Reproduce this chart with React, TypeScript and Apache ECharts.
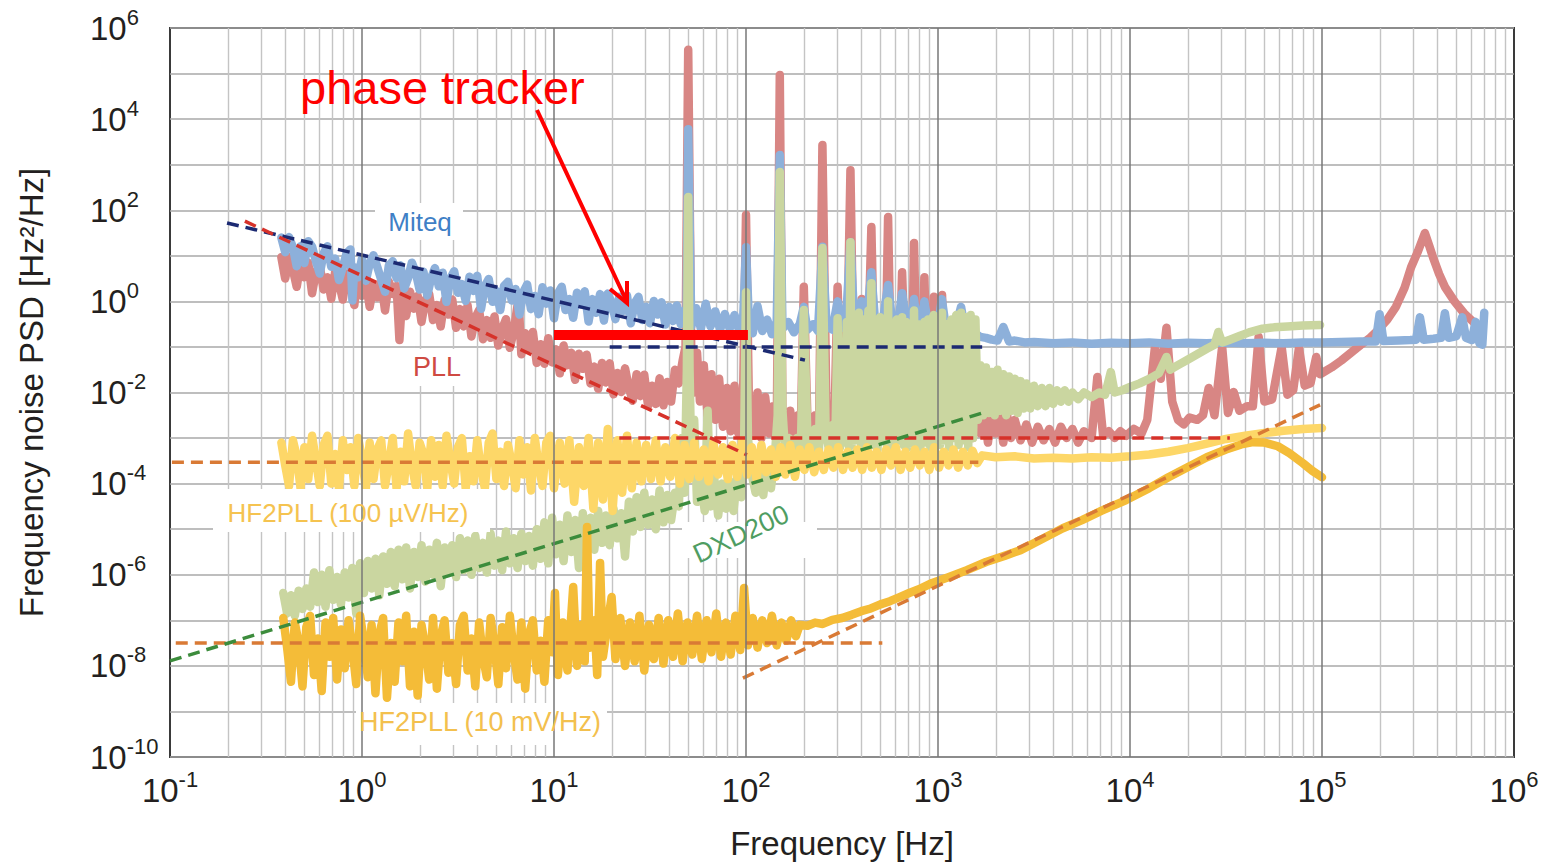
import { useEffect, useRef } from "react";
import * as echarts from "echarts";

// All spectral values are decimal exponents:
// each pair is [log10(frequency in Hz), log10(PSD in Hz^2/Hz)].

const miteqExp: [number, number][] = [
  [-0.42, 1.4], [-0.4, 1.08], [-0.38, 1.41], [-0.36, 1.19], [-0.34, 0.77], [-0.32, 1.21], [-0.3, 0.84], [-0.28, 1.32],
  [-0.26, 1.2], [-0.24, 0.88], [-0.22, 0.61], [-0.2, 1.05], [-0.18, 1.21], [-0.16, 0.76], [-0.14, 0.94], [-0.12, 0.47],
  [-0.1, 0.75], [-0.08, 1.06], [-0.06, 1.14], [-0.05, 0.02], [-0.04, 0.75], [-0.02, 0.53], [0.0, 0.95], [0.02, 0.45],
  [0.04, 0.83], [0.06, 1.01], [0.08, 0.75], [0.1, 0.48], [0.12, 0.21], [0.14, 0.79], [0.16, 0.88], [0.18, 0.51],
  [0.2, 0.79], [0.22, 0.28], [0.24, 0.51], [0.26, 0.85], [0.28, 0.63], [0.3, 0.26], [0.32, 0.65], [0.34, 0.13],
  [0.36, 0.51], [0.38, 0.73], [0.4, 0.33], [0.42, 0.63], [0.44, -0.01], [0.46, 0.5], [0.48, 0.66], [0.5, 0.19],
  [0.52, 0.38], [0.54, 0.01], [0.56, 0.54], [0.58, 0.23], [0.6, 0.56], [0.62, -0.16], [0.64, 0.33], [0.66, 0.49],
  [0.68, -0.01], [0.7, 0.23], [0.72, -0.19], [0.74, 0.34], [0.76, 0.43], [0.78, 0.02], [0.8, 0.27], [0.82, -0.29],
  [0.84, 0.2], [0.86, 0.37], [0.88, -0.17], [0.9, 0.12], [0.92, -0.28], [0.94, 0.31], [0.96, -0.05], [0.98, 0.24],
  [1.0, -0.37], [1.02, 0.17], [1.04, 0.32], [1.06, -0.19], [1.08, 0.05], [1.1, -0.36], [1.12, 0.19], [1.14, -0.07],
  [1.16, 0.22], [1.18, -0.44], [1.2, 0.05], [1.22, -0.25], [1.24, 0.16], [1.26, -0.42], [1.28, 0.17], [1.3, -0.03],
  [1.32, -0.39], [1.34, 0.1], [1.36, -0.21], [1.38, 0.13], [1.4, -0.48], [1.42, -0.04], [1.44, 0.1], [1.46, -0.41],
  [1.48, -0.12], [1.5, -0.48], [1.52, 0.01], [1.54, -0.29], [1.56, -0.02], [1.58, -0.51], [1.6, -0.12], [1.62, -0.43],
  [1.64, -0.09], [1.66, -0.5], [1.68, -0.2], [1.69, -0.45],
  [1.699, 3.78],
  [1.715, -0.55], [1.74, -0.15], [1.765, -0.6], [1.79, -0.05], [1.815, -0.55], [1.84, -0.22], [1.865, -0.62], [1.89, -0.28],
  [1.915, -0.6], [1.94, -0.3], [1.965, -0.65], [1.985, -0.4],
  [2.0, 1.19],
  [2.015, -0.45], [2.035, -0.7], [2.06, -0.1], [2.085, -0.65], [2.11, -0.4], [2.135, -0.72], [2.16, -0.45],
  [2.176, 3.21],
  [2.19, -0.6], [2.22, -0.45], [2.25, -0.68], [2.28, -0.5],
  [2.301, -0.12],
  [2.32, -0.62], [2.35, -0.5], [2.375, -0.65],
  [2.398, 1.2],
  [2.42, -0.55], [2.45, -0.62],
  [2.477, 0.0],
  [2.5, -0.58], [2.52, -0.5],
  [2.544, 1.3],
  [2.565, -0.55], [2.585, -0.62],
  [2.602, 0.0],
  [2.625, -0.55],
  [2.653, 0.64],
  [2.675, -0.6], [2.71, -0.52],
  [2.74, 0.36],
  [2.765, -0.6], [2.79, -0.55],
  [2.813, 0.18],
  [2.84, -0.58], [2.86, -0.5],
  [2.875, 0.05],
  [2.895, -0.6], [2.912, -0.48],
  [2.929, 0.0],
  [2.95, -0.55], [2.97, -0.6], [3.0, -0.55], [3.02, 0.05], [3.04, -0.55], [3.07, -0.62], [3.1, -0.45], [3.12, -0.12],
  [3.14, -0.6], [3.17, -0.7], [3.2, -0.72], [3.22, -0.78], [3.25, -0.8], [3.28, -0.84], [3.31, -0.86], [3.34, -0.56],
  [3.37, -0.88], [3.4, -0.86], [3.45, -0.9], [3.5, -0.89], [3.6, -0.92], [3.7, -0.9], [3.8, -0.93], [3.9, -0.91],
  [4.0, -0.92], [4.1, -0.9], [4.2, -0.93], [4.3, -0.91], [4.4, -0.92], [4.5, -0.9], [4.6, -0.92], [4.7, -0.91],
  [4.8, -0.92], [4.9, -0.9], [5.0, -0.9], [5.1, -0.89], [5.2, -0.88], [5.28, -0.88], [5.3, -0.28], [5.32, -0.87],
  [5.4, -0.86], [5.46, -0.85], [5.49, -0.84], [5.51, -0.35], [5.53, -0.84], [5.58, -0.82], [5.62, -0.8], [5.64, -0.26],
  [5.66, -0.8], [5.7, -0.76], [5.73, -0.35], [5.75, -0.8], [5.78, -0.85], [5.8, -0.45], [5.82, -0.92], [5.835, -0.95],
  [5.845, -0.25],
];

const pllExp: [number, number][] = [
  [-0.42, 0.97], [-0.4, 0.5], [-0.38, 0.97], [-0.36, 0.7], [-0.34, 0.32], [-0.32, 0.85], [-0.3, 0.53], [-0.28, 0.85],
  [-0.26, 0.18], [-0.24, 0.65], [-0.22, 0.78], [-0.2, 0.26], [-0.18, 0.53], [-0.16, 0.06], [-0.14, 0.64], [-0.12, 0.41],
  [-0.1, 0.04], [-0.08, 0.61], [-0.06, 0.39], [-0.04, -0.08], [-0.02, 0.69], [0.0, 0.12], [0.02, 0.45], [0.04, -0.12],
  [0.06, 0.36], [0.08, 0.09], [0.1, 0.42], [0.12, -0.2], [0.14, 0.43], [0.16, 0.16], [0.18, 0.34], [0.195, -0.85],
  [0.21, 0.15], [0.23, -0.32], [0.25, 0.21], [0.27, -0.16], [0.29, 0.12], [0.31, -0.45], [0.33, 0.03], [0.35, 0.16],
  [0.37, -0.41], [0.39, -0.08], [0.41, -0.55], [0.43, 0.03], [0.45, -0.29], [0.47, 0.04], [0.49, -0.58], [0.51, -0.17],
  [0.53, -0.55], [0.55, -0.09], [0.57, -0.77], [0.59, -0.36], [0.61, -0.19], [0.63, -0.83], [0.65, -0.41], [0.67, -0.8],
  [0.69, -0.33], [0.71, -0.97], [0.73, -0.6], [0.75, -0.39], [0.77, -1.02], [0.79, -0.66], [0.815, 0.05], [0.83, -1.16],
  [0.85, -0.7], [0.87, -1.03], [0.89, -0.67], [0.91, -1.35], [0.93, -0.94], [0.95, -1.37], [0.97, -0.81], [0.99, -1.34],
  [1.01, -1.05], [1.03, -1.58], [1.05, -0.97], [1.07, -1.4], [1.09, -1.13], [1.11, -1.72], [1.13, -1.15], [1.15, -1.48],
  [1.17, -1.17], [1.19, -1.8], [1.21, -1.43], [1.23, -1.92], [1.25, -1.35], [1.27, -1.78], [1.29, -1.36], [1.31, -2.04],
  [1.33, -1.57], [1.35, -1.99], [1.37, -1.47], [1.39, -1.9], [1.41, -2.18], [1.43, -1.6], [1.45, -2.08], [1.47, -1.61],
  [1.49, -2.29], [1.51, -1.85], [1.53, -2.25], [1.55, -1.69], [1.57, -2.28], [1.59, -1.77], [1.61, -2.2], [1.63, -1.5],
  [1.65, -1.8], [1.67, -1.3], [1.685, -1.0],
  [1.699, 5.52],
  [1.715, -1.2], [1.73, -2.0], [1.745, -1.13], [1.76, -2.2], [1.78, -1.4], [1.8, -2.5], [1.82, -1.6], [1.84, -2.6],
  [1.86, -1.7], [1.88, -2.75], [1.9, -1.9], [1.92, -2.85], [1.94, -1.85], [1.96, -2.9], [1.985, -2.0],
  [2.0, 1.9],
  [2.015, -2.2], [2.04, -2.95], [2.06, -2.0], [2.08, -3.0], [2.1, -2.1], [2.12, -2.9], [2.14, -2.3], [2.16, -2.9],
  [2.176, 4.97],
  [2.19, -2.5], [2.21, -3.0], [2.23, -2.4], [2.25, -2.95], [2.27, -2.5], [2.285, -2.9],
  [2.301, 0.32],
  [2.32, -2.6], [2.34, -3.0], [2.36, -2.5], [2.38, -2.9],
  [2.398, 3.43],
  [2.42, -2.6], [2.44, -3.0], [2.46, -2.7],
  [2.477, 0.32],
  [2.5, -2.8], [2.52, -2.6],
  [2.544, 2.88],
  [2.565, -2.7], [2.585, -2.9],
  [2.602, 0.05],
  [2.625, -2.7],
  [2.653, 1.63],
  [2.675, -2.8], [2.7, -2.6], [2.72, -2.9],
  [2.74, 1.85],
  [2.76, -2.7], [2.79, -2.9],
  [2.813, 0.64],
  [2.84, -2.8], [2.86, -2.9],
  [2.875, 1.28],
  [2.895, -2.7], [2.912, -2.9],
  [2.929, 0.53],
  [2.95, -2.8], [2.965, -2.6],
  [2.978, 0.1],
  [3.0, -2.6],
  [3.021, 0.14],
  [3.04, -2.3], [3.06, -2.9], [3.08, -2.1], [3.1, -2.8], [3.12, -2.0], [3.14, -2.9], [3.16, -2.2], [3.18, -3.0],
  [3.2, -2.1], [3.22, -2.9], [3.24, -2.3], [3.26, -3.1], [3.28, -2.4], [3.3, -2.9], [3.32, -2.5], [3.34, -3.1],
  [3.36, -2.5], [3.38, -3.0], [3.4, -2.6], [3.43, -3.05], [3.46, -2.7], [3.49, -3.1], [3.52, -2.75], [3.55, -3.05],
  [3.58, -2.8], [3.61, -3.1], [3.64, -2.75], [3.67, -3.0], [3.7, -2.8], [3.73, -3.1], [3.76, -2.85], [3.8, -3.0],
  [3.83, -1.66],
  [3.86, -2.95], [3.89, -2.85], [3.92, -3.0], [3.95, -2.85], [3.98, -2.95], [4.02, -2.8], [4.06, -2.9], [4.09, -2.6],
  [4.13, -1.0], [4.16, -1.7], [4.19, -0.58], [4.22, -2.2],
  [4.25, -2.6], [4.28, -2.7], [4.31, -2.55], [4.35, -2.6], [4.38, -2.5],
  [4.41, -1.9], [4.44, -2.5], [4.48, -1.0], [4.51, -2.45], [4.54, -1.99], [4.57, -2.4], [4.61, -2.3], [4.64, -2.3],
  [4.67, -0.78], [4.7, -2.2], [4.74, -2.15], [4.79, -1.0], [4.82, -2.05], [4.85, -1.95], [4.88, -1.02], [4.91, -1.85],
  [4.94, -1.8], [4.97, -1.22], [4.99, -1.6],
  [5.05, -1.45], [5.1, -1.3], [5.15, -1.13], [5.2, -0.96], [5.25, -0.8], [5.287, -0.65], [5.34, -0.4], [5.385, -0.12],
  [5.43, 0.3], [5.464, 0.75], [5.5, 1.1], [5.536, 1.5], [5.56, 1.2], [5.578, 0.97], [5.61, 0.6], [5.64, 0.32],
  [5.69, 0.0], [5.74, -0.26], [5.78, -0.42], [5.82, -0.58],
];

const dxdExp: [number, number][] = [
  [-0.41, -6.4], [-0.39, -6.85], [-0.37, -6.45], [-0.35, -6.9], [-0.33, -6.35], [-0.31, -6.75], [-0.29, -6.3], [-0.27, -6.7],
  [-0.25, -5.95], [-0.23, -6.6], [-0.21, -6.0], [-0.19, -6.7], [-0.17, -5.9], [-0.15, -6.55], [-0.13, -6.05], [-0.11, -6.65],
  [-0.09, -5.95], [-0.07, -6.5], [-0.05, -5.85], [-0.03, -6.85], [-0.01, -5.75], [0.01, -6.4], [0.03, -5.7], [0.05, -6.3],
  [0.07, -5.65], [0.09, -6.45], [0.11, -5.6], [0.13, -6.2], [0.15, -5.5], [0.17, -6.25], [0.19, -5.45], [0.21, -6.1],
  [0.23, -5.4], [0.25, -6.3], [0.27, -5.5], [0.29, -6.05], [0.31, -5.35], [0.33, -6.15], [0.35, -5.45], [0.37, -6.0],
  [0.39, -5.3], [0.41, -6.25], [0.43, -5.4], [0.45, -5.95], [0.47, -5.35], [0.49, -6.05], [0.51, -5.2], [0.53, -5.9],
  [0.55, -5.25], [0.57, -6.0], [0.59, -5.15], [0.61, -5.85], [0.63, -5.3], [0.65, -5.95], [0.67, -5.1], [0.69, -5.8],
  [0.71, -5.25], [0.73, -5.9], [0.75, -5.05], [0.77, -5.75], [0.79, -5.2], [0.81, -5.85], [0.83, -5.1], [0.85, -5.7],
  [0.87, -5.15], [0.89, -5.8], [0.91, -5.0], [0.93, -5.65], [0.95, -4.85], [0.97, -5.75], [0.99, -4.75], [1.01, -5.55],
  [1.03, -4.9], [1.05, -5.7], [1.07, -4.7], [1.09, -5.5], [1.11, -4.8], [1.13, -5.85], [1.15, -4.65], [1.17, -5.4],
  [1.19, -4.75], [1.21, -5.45], [1.23, -4.6], [1.25, -5.3], [1.27, -4.7], [1.29, -5.35], [1.31, -4.55], [1.33, -5.2],
  [1.35, -4.65], [1.37, -5.6], [1.39, -4.4], [1.41, -5.05], [1.43, -4.3], [1.45, -4.95], [1.47, -4.2], [1.49, -4.9],
  [1.51, -4.35], [1.53, -5.0], [1.55, -4.15], [1.57, -4.85], [1.59, -4.25], [1.61, -4.8], [1.63, -4.2], [1.65, -4.5],
  [1.665, -3.0], [1.68, -4.2], [1.692, -1.5], [1.699, 2.29], [1.706, -1.5], [1.715, -3.5], [1.73, -2.6],
  [1.745, -4.4], [1.765, -3.95], [1.785, -4.6], [1.8, -2.4], [1.815, -4.5], [1.835, -3.9], [1.855, -4.7], [1.875, -4.0],
  [1.895, -4.55], [1.915, -3.95], [1.935, -4.6], [1.955, -3.8], [1.975, -4.3], [1.99, -3.2],
  [2.0, 0.2],
  [2.01, -3.0], [2.03, -3.8], [2.05, -4.2], [2.07, -3.6], [2.09, -4.25], [2.11, -3.5], [2.13, -4.1], [2.15, -3.4], [2.165, -2.5],
  [2.176, 2.84],
  [2.19, -2.4], [2.205, -3.4], [2.225, -3.0], [2.245, -3.6], [2.265, -3.0], [2.285, -3.4],
  [2.301, -0.19],
  [2.32, -3.0], [2.34, -3.4], [2.36, -2.8], [2.38, -3.3],
  [2.398, 1.17],
  [2.415, -2.9], [2.435, -3.3], [2.455, -2.7], [2.465, -3.2],
  [2.477, -0.37],
  [2.49, -3.2], [2.5, -1.0], [2.5125, -3.1], [2.525, -0.45], [2.5375, -3.2], [2.544, 1.3], [2.55, -3.15], [2.5625, -0.35],
  [2.575, -3.05], [2.5875, -0.25], [2.6, -3.2], [2.6125, -0.4], [2.625, -3.1], [2.6375, -0.2], [2.645, -3.0], [2.653, 0.4],
  [2.66, -3.15], [2.6725, -0.45], [2.685, -3.25], [2.6975, -0.35], [2.71, -3.05], [2.7225, -0.55], [2.735, -3.2], [2.74, 0.0],
  [2.7475, -3.1], [2.76, -0.5], [2.7725, -3.25], [2.785, -0.4], [2.7975, -3.05], [2.8075, -0.6], [2.813, -0.35], [2.82, -3.15],
  [2.8325, -0.45], [2.845, -3.2], [2.8575, -0.55], [2.87, -3.1], [2.875, -0.2], [2.8825, -3.0], [2.895, -0.5], [2.9075, -3.25],
  [2.92, -0.6], [2.929, -0.45], [2.935, -3.1], [2.9475, -0.4], [2.96, -3.2], [2.9725, -0.35], [2.978, -0.3], [2.985, -3.1],
  [2.9975, -0.45], [3.01, -3.15], [3.021, -0.25], [3.0325, -3.05], [3.045, -0.5], [3.0575, -3.2], [3.07, -0.4], [3.0825, -3.0],
  [3.095, -0.3], [3.1075, -3.15], [3.12, -0.25], [3.1325, -3.05], [3.145, -0.35], [3.1575, -3.2], [3.17, -0.3], [3.1825, -3.0],
  [3.195, -0.4], [3.2075, -2.6],
  [3.22, -1.4], [3.235, -2.5], [3.25, -1.45], [3.265, -2.45], [3.28, -1.55], [3.295, -2.5], [3.31, -1.5], [3.325, -2.4],
  [3.34, -1.6], [3.355, -2.5], [3.37, -1.65], [3.385, -2.4], [3.4, -1.7], [3.415, -2.45], [3.43, -1.75], [3.445, -2.35],
  [3.46, -1.8], [3.48, -2.35], [3.5, -1.85], [3.52, -2.3], [3.54, -1.9], [3.56, -2.3], [3.58, -1.9], [3.6, -2.25],
  [3.62, -1.95], [3.64, -2.2], [3.66, -1.95], [3.68, -2.2], [3.7, -2.0], [3.73, -2.15], [3.76, -2.0], [3.8, -2.1],
  [3.84, -2.0], [3.87, -2.05], [3.9, -1.55], [3.92, -2.0], [3.96, -1.95], [4.0, -1.88], [4.05, -1.8], [4.1, -1.7],
  [4.15, -1.58], [4.19, -1.22], [4.21, -1.5], [4.25, -1.4], [4.3, -1.28], [4.35, -1.16], [4.4, -1.04], [4.44, -0.95],
  [4.46, -0.67], [4.48, -0.9], [4.52, -0.84], [4.57, -0.76], [4.62, -0.68], [4.69, -0.6], [4.75, -0.57], [4.82, -0.55],
  [4.9, -0.53], [4.99, -0.52],
];

const hf2LowGainExp: [number, number][] = [
  [-0.42, -3.1], [-0.4, -3.6], [-0.38, -4.05], [-0.36, -3.05], [-0.34, -3.4], [-0.32, -4.1], [-0.3, -3.2], [-0.28, -3.9],
  [-0.26, -2.95], [-0.24, -3.5], [-0.22, -4.05], [-0.2, -3.15], [-0.18, -2.95], [-0.16, -4.0], [-0.14, -3.35], [-0.12, -4.1],
  [-0.1, -3.05], [-0.08, -3.7], [-0.06, -3.2], [-0.04, -4.05], [-0.02, -3.0], [0.0, -3.45], [0.02, -4.1], [0.04, -3.1],
  [0.06, -3.9], [0.08, -3.25], [0.1, -3.05], [0.12, -4.05], [0.14, -3.55], [0.16, -3.0], [0.18, -4.1], [0.2, -3.3],
  [0.22, -3.95], [0.24, -2.9], [0.26, -3.6], [0.28, -4.05], [0.3, -3.1], [0.32, -3.35], [0.34, -4.1], [0.36, -3.05],
  [0.38, -3.85], [0.4, -3.15], [0.42, -4.05], [0.44, -2.95], [0.46, -3.5], [0.48, -4.0], [0.5, -3.2], [0.52, -3.0],
  [0.54, -4.1], [0.56, -3.4], [0.58, -3.95], [0.6, -3.05], [0.62, -3.7], [0.64, -4.1], [0.66, -3.1], [0.68, -2.9],
  [0.7, -3.9], [0.72, -3.3], [0.74, -4.05], [0.76, -3.15], [0.78, -3.55], [0.8, -4.1], [0.82, -3.05], [0.84, -3.8],
  [0.86, -3.2], [0.88, -4.15], [0.9, -3.0], [0.92, -3.6], [0.94, -4.05], [0.96, -3.1], [0.98, -2.95], [1.0, -4.1],
  [1.03, -3.1], [1.055, -4.0], [1.08, -3.05], [1.105, -4.4], [1.13, -3.2], [1.155, -4.05],
  [1.18, -3.0], [1.205, -4.55], [1.23, -3.1], [1.255, -4.35], [1.28, -2.8], [1.305, -4.6], [1.33, -3.05], [1.355, -4.2],
  [1.38, -2.95], [1.405, -4.1], [1.43, -3.1], [1.455, -3.95], [1.48, -3.15], [1.505, -3.9], [1.53, -3.05], [1.555, -3.95],
  [1.58, -3.2], [1.605, -3.85], [1.63, -3.0], [1.655, -4.0], [1.68, -3.15], [1.705, -3.9], [1.73, -3.1], [1.755, -3.85],
  [1.78, -3.25], [1.805, -3.95], [1.83, -3.1], [1.855, -3.8], [1.88, -3.2], [1.905, -3.9], [1.93, -3.15], [1.955, -3.85],
  [1.98, -3.05], [2.005, -3.8], [2.03, -3.2], [2.055, -3.9], [2.08, -3.15], [2.105, -3.75], [2.13, -3.25], [2.155, -3.85],
  [2.18, -3.2], [2.205, -3.8], [2.23, -3.15], [2.255, -3.85], [2.28, -3.25], [2.305, -3.7], [2.33, -3.2], [2.355, -3.75],
  [2.38, -3.3], [2.405, -3.7], [2.43, -3.25], [2.455, -3.65], [2.48, -3.2], [2.505, -3.7], [2.53, -3.3], [2.555, -3.65],
  [2.58, -3.25], [2.605, -3.7], [2.63, -3.2], [2.655, -3.65], [2.68, -3.3], [2.705, -3.7], [2.73, -3.25], [2.755, -3.6],
  [2.78, -3.2], [2.805, -3.7], [2.83, -3.3], [2.855, -3.65], [2.88, -3.25], [2.905, -3.6], [2.93, -3.3], [2.955, -3.7],
  [2.98, -3.2], [3.005, -3.65], [3.03, -3.3], [3.055, -3.6], [3.08, -3.25], [3.105, -3.65], [3.13, -3.3], [3.155, -3.6],
  [3.18, -3.28], [3.205, -3.55],
  [3.23, -3.38], [3.3, -3.42], [3.4, -3.4], [3.5, -3.45], [3.6, -3.43], [3.7, -3.45], [3.8, -3.42], [3.9, -3.43],
  [4.0, -3.4], [4.1, -3.36], [4.2, -3.3], [4.3, -3.22], [4.4, -3.12], [4.5, -3.02], [4.6, -2.95], [4.7, -2.89],
  [4.8, -2.84], [4.9, -2.8], [5.0, -2.78],
];

const hf2HighGainExp: [number, number][] = [
  [-0.41, -6.95], [-0.39, -7.6], [-0.37, -8.35], [-0.35, -7.05], [-0.33, -7.5], [-0.31, -8.45], [-0.29, -7.15], [-0.27, -6.9],
  [-0.25, -8.2], [-0.23, -7.4], [-0.21, -8.55], [-0.19, -7.05], [-0.17, -7.8], [-0.15, -6.95], [-0.13, -8.3], [-0.11, -7.2],
  [-0.09, -8.05], [-0.07, -7.0], [-0.05, -7.6], [-0.03, -8.4], [-0.01, -6.9], [0.01, -7.45], [0.03, -8.25], [0.05, -7.1],
  [0.07, -8.6], [0.09, -7.3], [0.11, -6.95], [0.13, -8.7], [0.15, -7.5], [0.17, -8.35], [0.19, -7.05], [0.21, -7.9],
  [0.23, -6.9], [0.25, -8.45], [0.27, -7.25], [0.29, -8.65], [0.31, -7.1], [0.33, -7.6], [0.35, -8.3], [0.37, -6.95],
  [0.39, -8.5], [0.41, -7.35], [0.43, -7.0], [0.45, -8.15], [0.47, -7.5], [0.49, -8.4], [0.51, -7.1], [0.53, -6.9],
  [0.55, -8.1], [0.57, -7.4], [0.59, -8.45], [0.61, -7.05], [0.63, -7.8], [0.65, -8.25], [0.67, -6.95], [0.69, -7.55],
  [0.71, -8.4], [0.73, -7.15], [0.75, -8.05], [0.77, -6.9], [0.79, -7.7], [0.81, -8.3], [0.83, -7.05], [0.85, -8.5],
  [0.87, -7.3], [0.89, -7.0], [0.91, -8.1], [0.93, -7.45], [0.95, -8.35], [0.97, -7.0], [0.99, -7.7],
  [1.005, -6.4], [1.02, -8.2], [1.045, -7.05], [1.07, -8.1], [1.1, -6.27], [1.12, -8.0], [1.145, -7.1],
  [1.16, -7.9], [1.172, -4.95], [1.185, -7.6], [1.21, -7.0], [1.225, -8.2], [1.24, -5.74], [1.255, -7.8], [1.28, -7.05],
  [1.3, -6.49], [1.32, -7.85], [1.345, -6.95], [1.37, -8.0], [1.395, -7.05], [1.42, -7.9], [1.445, -6.9], [1.47, -8.1],
  [1.495, -7.1], [1.52, -7.85], [1.545, -6.95], [1.57, -7.95], [1.595, -7.0], [1.62, -7.8], [1.645, -6.85], [1.67, -7.9],
  [1.695, -7.05], [1.72, -7.75], [1.745, -6.9], [1.77, -7.85], [1.795, -7.0], [1.82, -7.7], [1.845, -6.85], [1.87, -7.8],
  [1.895, -7.05], [1.92, -7.75], [1.945, -6.9], [1.97, -7.65], [1.99, -6.29], [2.01, -7.55], [2.035, -6.95], [2.06, -7.6],
  [2.085, -7.0], [2.11, -7.5], [2.135, -6.9], [2.16, -7.55], [2.185, -7.05], [2.21, -7.45], [2.235, -7.0], [2.26, -7.35],
  [2.28, -7.1],
  [2.32, -7.12], [2.36, -7.05], [2.4, -7.08], [2.45, -6.99], [2.5, -6.95], [2.55, -6.88], [2.6, -6.8], [2.65, -6.74],
  [2.7, -6.65], [2.75, -6.58], [2.8, -6.49], [2.85, -6.4], [2.9, -6.32], [2.97, -6.18], [3.05, -6.06], [3.15, -5.9],
  [3.25, -5.72], [3.35, -5.58], [3.43, -5.46], [3.55, -5.2], [3.65, -4.98], [3.75, -4.8], [3.85, -4.6], [3.98, -4.36],
  [4.1, -4.1], [4.2, -3.86], [4.3, -3.64], [4.4, -3.42], [4.5, -3.25], [4.58, -3.14], [4.64, -3.09], [4.7, -3.1],
  [4.77, -3.18], [4.83, -3.33], [4.9, -3.55], [4.95, -3.72], [5.0, -3.86],
];

// Fitted noise models (dashed), same exponent convention
const miteqFitSlopeExp: [number, number][] = [[-0.703, 1.72], [2.307, -1.29]];
const miteqFitFlatExp: [number, number][] = [[1.29, -1.0], [3.23, -1.0]];
const pllFitSlopeExp: [number, number][] = [[-0.61, 1.76], [2.005, -3.37]];
const pllFitFlatExp: [number, number][] = [[1.34, -3.0], [4.52, -3.0]];
const hf2LowFlatExp: [number, number][] = [[-0.99, -3.53], [3.21, -3.53]];
const hf2HighFlatExp: [number, number][] = [[-0.97, -7.5], [2.71, -7.5]];
const hf2HighSlopeExp: [number, number][] = [[1.984, -8.27], [4.99, -2.27]];
const dxdFitExp: [number, number][] = [[-1.0, -7.89], [3.23, -2.45]];
// Phase tracker operating band (10 Hz .. ~100 Hz)
const trackerBandExp: [number, number][] = [[1.0, -0.74], [2.01, -0.74]];

const decadeExponents = [-1, 0, 1, 2, 3, 4, 5, 6];
const FONT = '"Liberation Sans", Arial, Helvetica, sans-serif';

const toPoints = (arr: [number, number][]) => arr.map(([f, p]) => [Math.pow(10, f), Math.pow(10, p)]);

function buildOption() {
  const minorLines: { xAxis: number }[] = [];
  for (const k of decadeExponents.slice(0, -1)) {
    for (let m = 2; m <= 9; m++) minorLines.push({ xAxis: m * Math.pow(10, k) });
  }
  const majorLines = decadeExponents.slice(1, -1).map((k) => ({ xAxis: Math.pow(10, k) }));

  const trace = (name: string, data: [number, number][], color: string, z: number) => ({
    name,
    type: "line",
    data: toPoints(data),
    symbol: "none",
    showSymbol: false,
    silent: true,
    z,
    lineStyle: { color, width: 8.5, cap: "round", join: "round" },
    emphasis: { disabled: true },
  });
  const dashed = (name: string, data: [number, number][], color: string) => ({
    name,
    type: "line",
    data: toPoints(data),
    symbol: "none",
    showSymbol: false,
    silent: true,
    z: 6,
    lineStyle: { color, width: 3.5, type: [12, 7], cap: "butt" },
    emphasis: { disabled: true },
  });

  const rich = {
    b: { fontSize: 33, fontFamily: FONT, color: "#231f20", lineHeight: 44 },
    s: { fontSize: 22, fontFamily: FONT, color: "#231f20", lineHeight: 22, verticalAlign: "top" },
  };
  const expOf = (v: number) => Math.round(Math.log10(v));

  const labelText = (text: string, x: number, y: number, size: number, color: string, rotation = 0) => ({
    type: "text",
    x,
    y,
    rotation,
    z: 10,
    silent: true,
    style: { text, fill: color, font: `${size}px ${FONT}`, align: "center", verticalAlign: "middle" },
  });
  const box = (x: number, y: number, w: number, h: number) => ({
    type: "rect",
    z: 8,
    silent: true,
    shape: { x, y, width: w, height: h },
    style: { fill: "#ffffff" },
  });

  return {
    animation: false,
    backgroundColor: "#ffffff",
    grid: { left: 170, right: 37, top: 28, bottom: 108, show: true, borderColor: "#3a3a3a", borderWidth: 2, backgroundColor: "transparent" },
    xAxis: {
      type: "log",
      logBase: 10,
      min: 0.1,
      max: 1e6,
      interval: 1,
      name: "Frequency [Hz]",
      nameLocation: "middle",
      nameGap: 70,
      nameTextStyle: { fontSize: 33, fontFamily: FONT, color: "#231f20" },
      axisLine: { show: false },
      axisTick: { show: false },
      splitLine: { show: false },
      axisLabel: {
        margin: 11,
        formatter: (v: number) => `{b|10}{s|${expOf(v)}}`,
        rich,
      },
    },
    yAxis: {
      type: "log",
      logBase: 10,
      min: 1e-10,
      max: 1e6,
      interval: 1,
      name: "Frequency noise PSD [Hz²/Hz]",
      nameLocation: "middle",
      nameGap: 122,
      nameTextStyle: { fontSize: 33, fontFamily: FONT, color: "#231f20" },
      axisLine: { show: false },
      axisTick: { show: false },
      splitLine: { show: true, lineStyle: { color: "#a9a9a9", width: 1.5 } },
      axisLabel: {
        align: "left",
        margin: 80,
        formatter: (v: number) => {
          const e = expOf(v);
          return e % 2 === 0 ? `{b|10}{s|${e}}` : "";
        },
        rich,
      },
    },
    series: [
      {
        name: "minor-grid",
        type: "line",
        data: [],
        silent: true,
        markLine: {
          silent: true,
          z: 1,
          symbol: ["none", "none"],
          label: { show: false },
          lineStyle: { color: "#c4c4c4", width: 1.4, type: "solid" },
          emphasis: { disabled: true },
          data: minorLines,
        },
      },
      trace("PLL", pllExp, "#d88684", 2),
      trace("Miteq", miteqExp, "#8db0da", 3),
      trace("DXD200", dxdExp, "#cad6a0", 4),
      trace("HF2PLL (100 µV/Hz)", hf2LowGainExp, "#fdd768", 5),
      trace("HF2PLL (10 mV/Hz)", hf2HighGainExp, "#f4bc38", 5.5),
      dashed("Miteq fit", miteqFitSlopeExp, "#1c2a72"),
      dashed("Miteq floor", miteqFitFlatExp, "#1c2a72"),
      dashed("PLL fit", pllFitSlopeExp, "#d6322a"),
      dashed("PLL floor", pllFitFlatExp, "#d6322a"),
      dashed("HF2PLL 100 µV floor", hf2LowFlatExp, "#d97a35"),
      dashed("HF2PLL 10 mV floor", hf2HighFlatExp, "#d97a35"),
      dashed("HF2PLL 10 mV slope", hf2HighSlopeExp, "#d97a35"),
      dashed("DXD200 fit", dxdFitExp, "#3c8c3c"),
      {
        name: "major-grid",
        type: "line",
        data: [],
        silent: true,
        markLine: {
          silent: true,
          z: 9,
          symbol: ["none", "none"],
          label: { show: false },
          lineStyle: { color: "#777777", width: 1.5, type: "solid" },
          emphasis: { disabled: true },
          data: majorLines,
        },
      },
      {
        name: "phase tracker",
        type: "line",
        data: toPoints(trackerBandExp),
        symbol: "none",
        silent: true,
        z: 11,
        lineStyle: { color: "#ff0000", width: 10, cap: "butt" },
        emphasis: { disabled: true },
      },
    ],
    graphic: [
      box(375, 203, 88, 37),
      box(405, 349, 63, 37),
      box(213, 489, 277, 43),
      box(682, 522, 135, 36),
      box(356, 703, 251, 42),
      labelText("Miteq", 420, 222, 26, "#3f7fc6"),
      labelText("PLL", 437, 367, 27, "#cf4a42"),
      labelText("HF2PLL (100 µV/Hz)", 348, 513, 26, "#f5c350"),
      labelText("HF2PLL (10 mV/Hz)", 480, 722, 27, "#f3c04e"),
      labelText("DXD200", 741, 534, 27, "#4f9d62", 0.435),
      {
        type: "text",
        x: 300,
        y: 87,
        z: 12,
        silent: true,
        style: { text: "phase tracker", fill: "#ff0000", font: `47px ${FONT}`, align: "left", verticalAlign: "middle" },
      },
      {
        type: "line",
        z: 12,
        silent: true,
        shape: { x1: 537, y1: 110, x2: 626, y2: 300 },
        style: { stroke: "#ff0000", lineWidth: 4 },
      },
      {
        type: "polyline",
        z: 12,
        silent: true,
        shape: { points: [[610, 289], [627, 303], [627, 281]] },
        style: { stroke: "#ff0000", lineWidth: 4, fill: null },
      },
    ],
  };
}

export default function App() {
  const ref = useRef<HTMLDivElement>(null);
  useEffect(() => {
    if (!ref.current) return;
    const chart = echarts.init(ref.current, null, { renderer: "svg" });
    chart.setOption(buildOption() as any);
    return () => chart.dispose();
  }, []);
  return (
    <div
      ref={ref}
      style={{ position: "fixed", left: 0, top: 0, width: 1551, height: 865, background: "#ffffff" }}
    />
  );
}
